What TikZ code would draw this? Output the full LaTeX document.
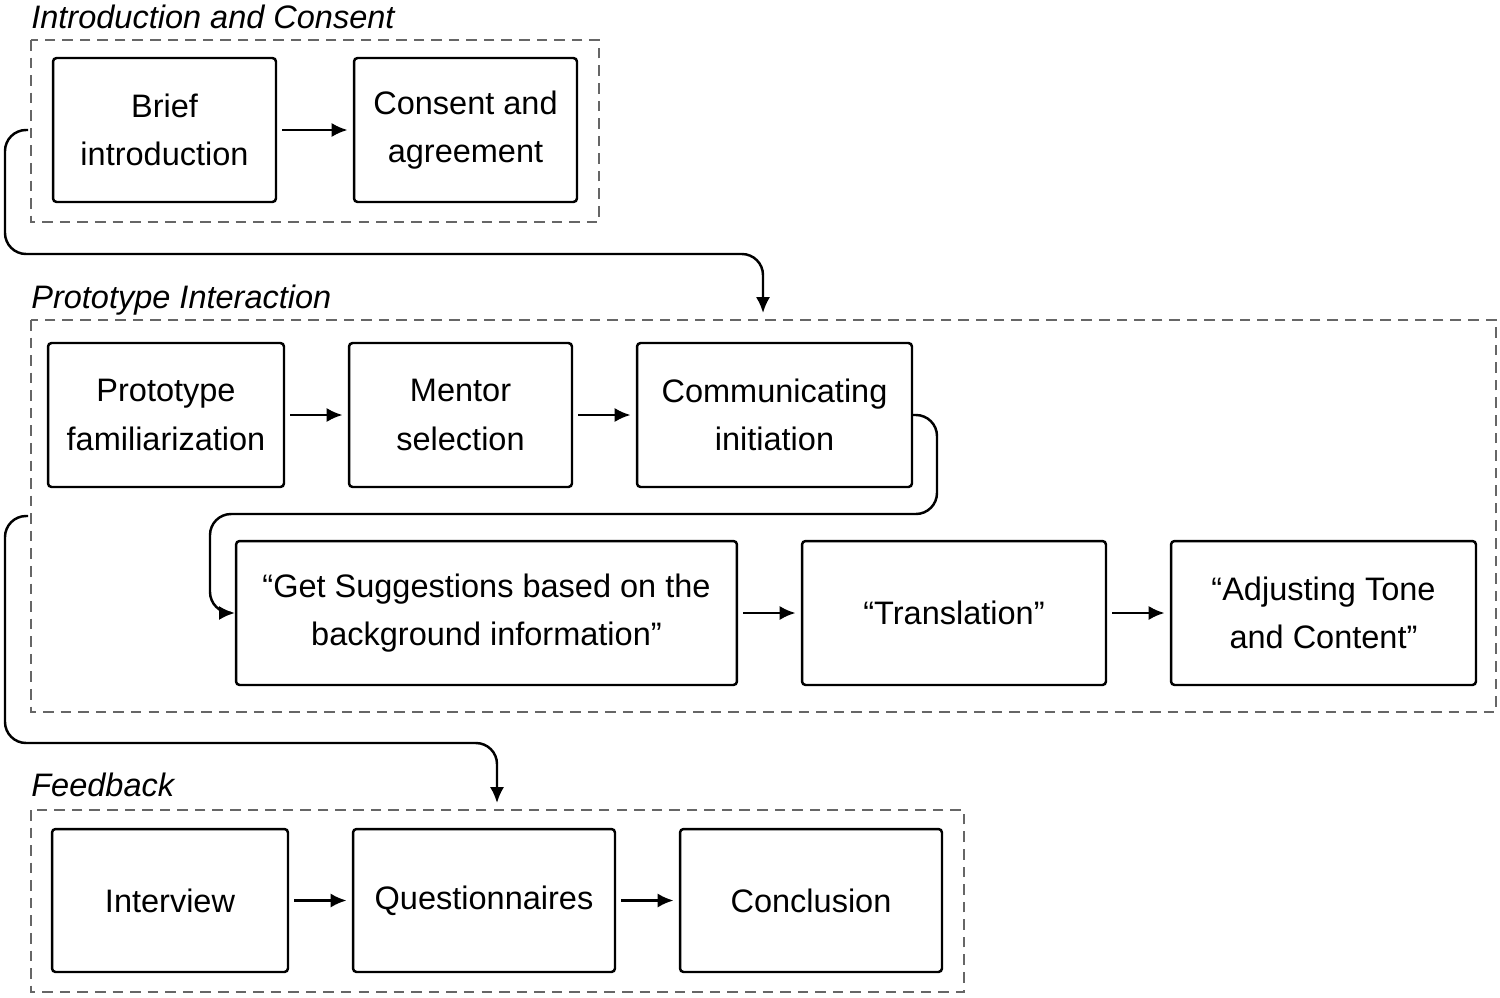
\documentclass[tikz,border=0pt]{standalone}
\usepackage{fontspec}
\setmainfont{Liberation Sans}
\usetikzlibrary{arrows.meta}
\begin{document}
\begin{tikzpicture}[x=0.02cm, y=-0.02cm, >={Latex[length=9pt,width=8pt]}]

% Styles for steps, groups and titles
\tikzset{stepbox/.style={draw, line width=1.4pt, rounded corners=2pt, align=center, minimum height=2.88cm, font=\fontsize{18.5}{27.5}\selectfont}}
\tikzset{group/.style={draw=gray!80!black, line width=1.3pt, dash pattern=on 6pt off 4pt}}
\tikzset{grouptitle/.style={anchor=west, font=\fontsize{18.5}{20}\selectfont\itshape, inner sep=0pt}}
\tikzset{flow/.style={->, line width=1.4pt, shorten >=3pt, shorten <=3pt}}
\tikzset{loop/.style={->, line width=1.4pt, rounded corners=12pt}}

\useasboundingbox (0,0) rectangle (1500,997);

% Groups
\draw[group] (31,40) rectangle (599,222);
\draw[group] (31,320) rectangle (1496,712);
\draw[group] (31,810) rectangle (964,992);
\node[grouptitle] (t1) at (31,17) {Introduction and Consent};
\node[grouptitle] (t2) at (31,300) {Prototype Interaction};
\node[grouptitle] (t3) at (31,785) {Feedback};

% Introduction and Consent
\node[stepbox, minimum width=4.46cm] (brief) at (164.5,130) {Brief\\introduction};
\node[stepbox, minimum width=4.46cm] (consent) at (465.5,130) {Consent and\\agreement};

% Prototype Interaction
\node[stepbox, minimum width=4.72cm] (proto) at (166,415) {Prototype\\familiarization};
\node[stepbox, minimum width=4.46cm] (mentor) at (460.5,415) {Mentor\\selection};
\node[stepbox, minimum width=5.5cm] (comm) at (774.5,415) {Communicating\\initiation};
\node[stepbox, minimum width=10.02cm] (sugg) at (486.5,613) {“Get Suggestions based on the\\background information”};
\node[stepbox, minimum width=6.08cm] (trans) at (954,613) {“Translation”};
\node[stepbox, minimum width=6.1cm] (adjust) at (1323.5,613) {“Adjusting Tone\\and Content”};

% Feedback
\node[stepbox, minimum width=4.72cm, minimum height=2.86cm] (interview) at (170,900.5) {Interview};
\node[stepbox, minimum width=5.24cm, minimum height=2.86cm] (quest) at (484,900.5) {Questionnaires};
\node[stepbox, minimum width=5.24cm, minimum height=2.86cm] (concl) at (811,900.5) {Conclusion};

% Arrows inside groups
\draw[flow] (brief) -- (consent);
\draw[flow] (proto) -- (mentor);
\draw[flow] (mentor) -- (comm);
\draw[flow] (sugg) -- (trans);
\draw[flow] (trans) -- (adjust);
\draw[flow] (interview) -- (quest);
\draw[flow] (quest) -- (concl);

% Arrows between groups
\coordinate (s1) at (28,130);
\coordinate (e1) at (763,313);
\coordinate (s2) at (28,516);
\coordinate (e2) at (497,803);
\draw[loop] (s1) -- (5,130) -- (5,254) -- (763,254) -- (e1);
\draw[loop] (comm.east) -- (937,415) -- (937,514) -- (210,514) -- (210,613) -- (sugg.west);
\draw[loop] (s2) -- (5,516) -- (5,743) -- (497,743) -- (e2);
\end{tikzpicture}
\end{document}
